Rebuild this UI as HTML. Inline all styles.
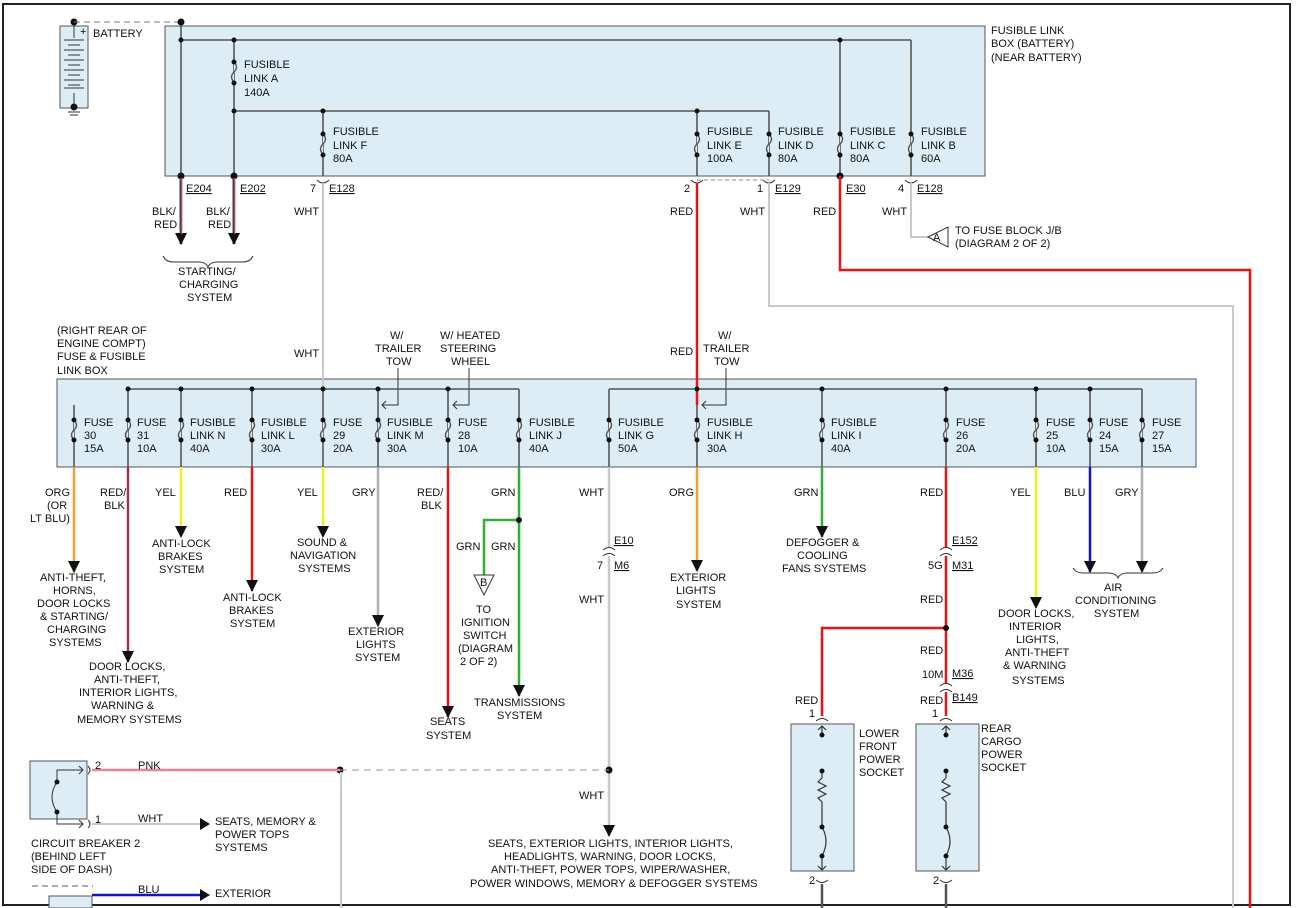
<!DOCTYPE html>
<html><head><meta charset="utf-8"><style>
html,body{margin:0;padding:0;background:#fff;width:1298px;height:908px;overflow:hidden}
svg text{font-family:"Liberation Sans",Arial,sans-serif;font-size:11px;fill:#111}
</style></head><body>
<svg width="1298" height="908" viewBox="0 0 1298 908" xmlns="http://www.w3.org/2000/svg">
<defs>
<marker id="ar" markerWidth="12" markerHeight="12" refX="11" refY="6" orient="auto" markerUnits="userSpaceOnUse"><path d="M0,0 L12,6 L0,12 z" fill="#111"/></marker>
</defs>
<rect x="3" y="4" width="1287" height="901" fill="none" stroke="#222" stroke-width="2"/>
<!-- boxes -->
<rect x="165" y="26" width="820" height="150" fill="#dcedf5" stroke="#555"/>
<rect x="57" y="379" width="1139" height="88" fill="#dcedf5" stroke="#555"/>
<!-- battery -->
<rect x="60" y="26" width="28" height="82" fill="#dcedf5" stroke="#555"/>
<line x1="74" y1="22" x2="74" y2="38" stroke="#333"/>
<g stroke="#333"><line x1="64" y1="40" x2="84" y2="40"/><line x1="68" y1="45" x2="80" y2="45"/><line x1="64" y1="50" x2="84" y2="50"/><line x1="68" y1="55" x2="80" y2="55"/><line x1="64" y1="60" x2="84" y2="60"/><line x1="68" y1="65" x2="80" y2="65"/><line x1="64" y1="70" x2="84" y2="70"/><line x1="68" y1="75" x2="80" y2="75"/><line x1="64" y1="80" x2="84" y2="80"/><line x1="68" y1="85" x2="80" y2="85"/><line x1="64" y1="88" x2="84" y2="88"/><line x1="74" y1="93" x2="74" y2="107"/><line x1="68" y1="112" x2="80" y2="112"/><line x1="70" y1="115" x2="78" y2="115"/></g>
<text x="80" y="35" font-size="9">+</text>
<circle cx="74" cy="22" r="3.5" fill="#111"/><circle cx="74" cy="107" r="3.5" fill="#111"/>
<line x1="74" y1="22" x2="181" y2="22" stroke="#777" stroke-dasharray="6,4"/>
<text x="93" y="37">BATTERY</text>
<!-- top bus -->
<g stroke="#555" stroke-width="1.6" fill="none">
<line x1="181" y1="22" x2="181" y2="176"/>
<line x1="181" y1="40" x2="911" y2="40"/>
<line x1="234" y1="40" x2="234" y2="176"/>
<line x1="234" y1="111" x2="769" y2="111"/>
<line x1="323" y1="111" x2="323" y2="176"/>
<line x1="697" y1="111" x2="697" y2="176"/>
<line x1="769" y1="111" x2="769" y2="176"/>
<line x1="840" y1="40" x2="840" y2="176"/>
<line x1="911" y1="40" x2="911" y2="176"/>
</g>
<g fill="#111"><circle cx="181" cy="22" r="3.5"/><circle cx="181" cy="40" r="2.5"/><circle cx="234" cy="40" r="2.5"/><circle cx="234" cy="111" r="2.5"/><circle cx="323" cy="111" r="2.5"/><circle cx="697" cy="111" r="2.5"/><circle cx="840" cy="40" r="2.5"/><circle cx="181" cy="176" r="3.5"/><circle cx="234" cy="176" r="3.5"/><circle cx="840" cy="176" r="3.5"/></g>
<g fill="#dcedf5" stroke="#555" stroke-width="1.4">
<path d="M234,62 q5,5 0,10 q-5,5 0,10" /><path d="M323,134 q5,5 0,10 q-5,5 0,10"/><path d="M697,134 q5,5 0,10 q-5,5 0,10"/><path d="M769,134 q5,5 0,10 q-5,5 0,10"/><path d="M840,134 q5,5 0,10 q-5,5 0,10"/><path d="M911,134 q5,5 0,10 q-5,5 0,10"/>
</g>
<g fill="#111"><circle cx="234" cy="62" r="2.5"/><circle cx="234" cy="83" r="2.5"/>
<circle cx="323" cy="134" r="2.5"/><circle cx="323" cy="155" r="2.5"/><circle cx="697" cy="134" r="2.5"/><circle cx="697" cy="155" r="2.5"/><circle cx="769" cy="134" r="2.5"/><circle cx="769" cy="155" r="2.5"/><circle cx="840" cy="134" r="2.5"/><circle cx="840" cy="155" r="2.5"/><circle cx="911" cy="134" r="2.5"/><circle cx="911" cy="155" r="2.5"/></g>
<text x="244" y="68">FUSIBLE</text><text x="244" y="82">LINK A</text><text x="244" y="96">140A</text>
<text x="333" y="135">FUSIBLE</text><text x="333" y="149">LINK F</text><text x="333" y="162">80A</text>
<text x="707" y="135">FUSIBLE</text><text x="707" y="149">LINK E</text><text x="707" y="162">100A</text>
<text x="778" y="135">FUSIBLE</text><text x="778" y="149">LINK D</text><text x="778" y="162">80A</text>
<text x="850" y="135">FUSIBLE</text><text x="850" y="149">LINK C</text><text x="850" y="162">80A</text>
<text x="921" y="135">FUSIBLE</text><text x="921" y="149">LINK B</text><text x="921" y="162">60A</text>
<text x="991" y="34">FUSIBLE LINK</text><text x="991" y="47">BOX (BATTERY)</text><text x="991" y="61">(NEAR BATTERY)</text>
<!-- top outputs -->
<line x1="181" y1="178" x2="181" y2="244" stroke="#444" stroke-width="3" marker-end="url(#ar)"/>
<line x1="182" y1="178" x2="182" y2="234" stroke="#e07080" stroke-width="1"/>
<line x1="234" y1="178" x2="234" y2="244" stroke="#444" stroke-width="3" marker-end="url(#ar)"/>
<line x1="235" y1="178" x2="235" y2="234" stroke="#e07080" stroke-width="1"/>
<text x="186" y="192" text-decoration="underline">E204</text><text x="240" y="192" text-decoration="underline">E202</text>
<text x="152" y="215">BLK/</text><text x="154" y="228">RED</text><text x="206" y="215">BLK/</text><text x="208" y="228">RED</text>
<path d="M163,256 q3,6 10,6 l25,0 q8,0 10,5 q2,-5 10,-5 l25,0 q7,0 10,-6" fill="none" stroke="#333"/>
<text x="178" y="275">STARTING/</text><text x="179" y="288">CHARGING</text><text x="187" y="301">SYSTEM</text>
<g fill="none" stroke="#333"><path d="M317,180 q6,6 12,0"/><path d="M691,180 q6,6 12,0"/><path d="M763,180 q6,6 12,0"/><path d="M905,180 q6,6 12,0"/></g>
<text x="310" y="192">7</text><text x="329" y="192" text-decoration="underline">E128</text>
<text x="684" y="192">2</text><text x="757" y="192">1</text><text x="775" y="192" text-decoration="underline">E129</text>
<text x="846" y="192" text-decoration="underline">E30</text><text x="898" y="192">4</text><text x="917" y="192" text-decoration="underline">E128</text>
<line x1="697" y1="180" x2="769" y2="180" stroke="#888" stroke-dasharray="4,3"/>
<line x1="323" y1="183" x2="323" y2="389" stroke="#c8c8c8" stroke-width="2"/>
<text x="294" y="215">WHT</text><text x="294" y="357">WHT</text>
<line x1="697" y1="183" x2="697" y2="405" stroke="#ee1111" stroke-width="2.5"/>
<text x="670" y="215">RED</text><text x="670" y="355">RED</text>
<polyline points="769,183 769,306 1233,306 1233,908" fill="none" stroke="#c8c8c8" stroke-width="2"/>
<text x="740" y="215">WHT</text>
<polyline points="840,176 840,270 1250,270 1250,908" fill="none" stroke="#ee1111" stroke-width="2.5"/>
<text x="813" y="215">RED</text>
<polyline points="911,183 911,237 928,237" fill="none" stroke="#c8c8c8" stroke-width="2"/>
<text x="882" y="215">WHT</text>
<path d="M928,237 L948,227 L948,247 z" fill="#fff" stroke="#333"/><text x="933" y="241" font-size="9">A</text>
<text x="955" y="234">TO FUSE BLOCK J/B</text><text x="955" y="247">(DIAGRAM 2 OF 2)</text>
<!-- lower box labels -->
<text x="57" y="334">(RIGHT REAR OF</text><text x="57" y="347">ENGINE COMPT)</text><text x="57" y="360">FUSE &amp; FUSIBLE</text><text x="57" y="374">LINK BOX</text>
<text x="390" y="339">W/</text><text x="375" y="352">TRAILER</text><text x="386" y="365">TOW</text>
<text x="440" y="339">W/ HEATED</text><text x="440" y="352">STEERING</text><text x="451" y="365">WHEEL</text>
<text x="718" y="339">W/</text><text x="703" y="352">TRAILER</text><text x="714" y="365">TOW</text>
<g fill="none" stroke="#333"><polyline points="398,368 398,405 382,405"/><polyline points="469,368 469,405 453,405"/><polyline points="726,368 726,405 702,405"/>
<path d="M386,401 l-4,4 l4,4"/><path d="M457,401 l-4,4 l4,4"/><path d="M706,401 l-4,4 l4,4"/></g>
<g stroke="#555" stroke-width="1.6" fill="none">
<line x1="128" y1="389" x2="519" y2="389"/><line x1="609" y1="389" x2="1142" y2="389"/>
<line x1="74" y1="405" x2="74" y2="467"/>
<line x1="128" y1="389" x2="128" y2="467"/><line x1="181" y1="389" x2="181" y2="467"/><line x1="252" y1="389" x2="252" y2="467"/><line x1="323" y1="389" x2="323" y2="467"/><line x1="378" y1="389" x2="378" y2="467"/><line x1="448" y1="389" x2="448" y2="467"/><line x1="519" y1="389" x2="519" y2="467"/>
<line x1="609" y1="389" x2="609" y2="467"/><line x1="697" y1="405" x2="697" y2="467"/><line x1="822" y1="389" x2="822" y2="467"/><line x1="946" y1="389" x2="946" y2="467"/><line x1="1036" y1="389" x2="1036" y2="467"/><line x1="1090" y1="389" x2="1090" y2="467"/><line x1="1142" y1="389" x2="1142" y2="467"/>
</g>
<g fill="#dcedf5" stroke="#555" stroke-width="1.4">
<path d="M74,420 q5,5 0,10 q-5,5 0,10"/><path d="M128,420 q5,5 0,10 q-5,5 0,10"/><path d="M181,420 q5,5 0,10 q-5,5 0,10"/><path d="M252,420 q5,5 0,10 q-5,5 0,10"/><path d="M323,420 q5,5 0,10 q-5,5 0,10"/><path d="M378,420 q5,5 0,10 q-5,5 0,10"/><path d="M448,420 q5,5 0,10 q-5,5 0,10"/><path d="M519,420 q5,5 0,10 q-5,5 0,10"/><path d="M609,420 q5,5 0,10 q-5,5 0,10"/><path d="M697,420 q5,5 0,10 q-5,5 0,10"/><path d="M822,420 q5,5 0,10 q-5,5 0,10"/><path d="M946,420 q5,5 0,10 q-5,5 0,10"/><path d="M1036,420 q5,5 0,10 q-5,5 0,10"/><path d="M1090,420 q5,5 0,10 q-5,5 0,10"/><path d="M1142,420 q5,5 0,10 q-5,5 0,10"/>
</g>
<g fill="#111">
<circle cx="74" cy="420" r="2.5"/><circle cx="74" cy="440" r="2.5"/><circle cx="128" cy="420" r="2.5"/><circle cx="128" cy="440" r="2.5"/><circle cx="181" cy="420" r="2.5"/><circle cx="181" cy="440" r="2.5"/><circle cx="252" cy="420" r="2.5"/><circle cx="252" cy="440" r="2.5"/><circle cx="323" cy="420" r="2.5"/><circle cx="323" cy="440" r="2.5"/><circle cx="378" cy="420" r="2.5"/><circle cx="378" cy="440" r="2.5"/><circle cx="448" cy="420" r="2.5"/><circle cx="448" cy="440" r="2.5"/><circle cx="519" cy="420" r="2.5"/><circle cx="519" cy="440" r="2.5"/><circle cx="609" cy="420" r="2.5"/><circle cx="609" cy="440" r="2.5"/><circle cx="697" cy="420" r="2.5"/><circle cx="697" cy="440" r="2.5"/><circle cx="822" cy="420" r="2.5"/><circle cx="822" cy="440" r="2.5"/><circle cx="946" cy="420" r="2.5"/><circle cx="946" cy="440" r="2.5"/><circle cx="1036" cy="420" r="2.5"/><circle cx="1036" cy="440" r="2.5"/><circle cx="1090" cy="420" r="2.5"/><circle cx="1090" cy="440" r="2.5"/><circle cx="1142" cy="420" r="2.5"/><circle cx="1142" cy="440" r="2.5"/>
<circle cx="128" cy="389" r="2.5"/><circle cx="181" cy="389" r="2.5"/><circle cx="252" cy="389" r="2.5"/><circle cx="323" cy="389" r="2.5"/><circle cx="378" cy="389" r="2.5"/><circle cx="448" cy="389" r="2.5"/><circle cx="697" cy="389" r="2.5"/><circle cx="822" cy="389" r="2.5"/><circle cx="946" cy="389" r="2.5"/><circle cx="1036" cy="389" r="2.5"/><circle cx="1090" cy="389" r="2.5"/>
</g>
<text x="84" y="426">FUSE</text><text x="84" y="439">30</text><text x="84" y="452">15A</text>
<text x="137" y="426">FUSE</text><text x="137" y="439">31</text><text x="137" y="452">10A</text>
<text x="190" y="426">FUSIBLE</text><text x="190" y="439">LINK N</text><text x="190" y="452">40A</text>
<text x="261" y="426">FUSIBLE</text><text x="261" y="439">LINK L</text><text x="261" y="452">30A</text>
<text x="333" y="426">FUSE</text><text x="333" y="439">29</text><text x="333" y="452">20A</text>
<text x="387" y="426">FUSIBLE</text><text x="387" y="439">LINK M</text><text x="387" y="452">30A</text>
<text x="458" y="426">FUSE</text><text x="458" y="439">28</text><text x="458" y="452">10A</text>
<text x="529" y="426">FUSIBLE</text><text x="529" y="439">LINK J</text><text x="529" y="452">40A</text>
<text x="618" y="426">FUSIBLE</text><text x="618" y="439">LINK G</text><text x="618" y="452">50A</text>
<text x="707" y="426">FUSIBLE</text><text x="707" y="439">LINK H</text><text x="707" y="452">30A</text>
<text x="831" y="426">FUSIBLE</text><text x="831" y="439">LINK I</text><text x="831" y="452">40A</text>
<text x="956" y="426">FUSE</text><text x="956" y="439">26</text><text x="956" y="452">20A</text>
<text x="1046" y="426">FUSE</text><text x="1046" y="439">25</text><text x="1046" y="452">10A</text>
<text x="1099" y="426">FUSE</text><text x="1099" y="439">24</text><text x="1099" y="452">15A</text>
<text x="1152" y="426">FUSE</text><text x="1152" y="439">27</text><text x="1152" y="452">15A</text>
<!-- lower wires -->
<g stroke-width="2.5" fill="none">
<line x1="74" y1="467" x2="74" y2="572" stroke="#f0a030" marker-end="url(#ar)"/>
<line x1="128" y1="467" x2="128" y2="662" stroke="#a03058" marker-end="url(#ar)"/>
<line x1="181" y1="467" x2="181" y2="537" stroke="#f0f020" marker-end="url(#ar)"/>
<line x1="252" y1="467" x2="252" y2="591" stroke="#ee1111" marker-end="url(#ar)"/>
<line x1="323" y1="467" x2="323" y2="537" stroke="#f0f020" marker-end="url(#ar)"/>
<line x1="378" y1="467" x2="378" y2="626" stroke="#b0b0b0" marker-end="url(#ar)"/>
<line x1="448" y1="467" x2="448" y2="717" stroke="#ee1111" marker-end="url(#ar)"/>
<line x1="519" y1="467" x2="519" y2="696" stroke="#30b030" marker-end="url(#ar)"/>
<polyline points="519,520 484,520 484,575" stroke="#30b030"/>
<polyline points="609,467 609,548" stroke="#c8c8c8"/><polyline points="609,556 609,836" stroke="#c8c8c8" marker-end="url(#ar)"/>
<line x1="697" y1="467" x2="697" y2="571" stroke="#f0a030" marker-end="url(#ar)"/>
<line x1="822" y1="467" x2="822" y2="537" stroke="#30b030" marker-end="url(#ar)"/>
<polyline points="946,467 946,548" stroke="#ee1111"/><polyline points="946,556 946,684" stroke="#ee1111"/><polyline points="946,692 946,716" stroke="#ee1111"/>
<polyline points="946,628 822,628 822,716" stroke="#ee1111"/>
<line x1="1036" y1="467" x2="1036" y2="608" stroke="#f0f020" marker-end="url(#ar)"/>
<line x1="1090" y1="467" x2="1090" y2="572" stroke="#1010e0" marker-end="url(#ar)"/>
<line x1="1142" y1="467" x2="1142" y2="572" stroke="#b0b0b0" marker-end="url(#ar)"/>
</g>
<g fill="#111"><circle cx="519" cy="520" r="3"/><circle cx="946" cy="628" r="3"/><circle cx="340" cy="770" r="3.5"/><circle cx="609" cy="770" r="3.5"/></g>
<path d="M474,575 L494,575 L484,595 z" fill="#fff" stroke="#333"/><text x="480" y="586" font-size="9">B</text>
<g fill="none" stroke="#333"><path d="M603,550 q6,-5 12,0"/><path d="M603,556 q6,-5 12,0"/><path d="M940,550 q6,-5 12,0"/><path d="M940,556 q6,-5 12,0"/><path d="M940,686 q6,-5 12,0"/><path d="M940,692 q6,-5 12,0"/><path d="M816,721 q6,-5 12,0"/><path d="M940,721 q6,-5 12,0"/><path d="M816,880 q6,5 12,0"/><path d="M940,880 q6,5 12,0"/></g>
<text x="45" y="496">ORG</text><text x="47" y="509">(OR</text><text x="30" y="522">LT BLU)</text>
<text x="40" y="581">ANTI-THEFT,</text><text x="53" y="594">HORNS,</text><text x="37" y="607">DOOR LOCKS</text><text x="40" y="620">&amp; STARTING/</text><text x="47" y="633">CHARGING</text><text x="49" y="646">SYSTEMS</text>
<text x="100" y="496">RED/</text><text x="104" y="509">BLK</text>
<text x="89" y="670">DOOR LOCKS,</text><text x="94" y="683">ANTI-THEFT,</text><text x="79" y="696">INTERIOR LIGHTS,</text><text x="91" y="709">WARNING &amp;</text><text x="77" y="723">MEMORY SYSTEMS</text>
<text x="155" y="496">YEL</text><text x="152" y="547">ANTI-LOCK</text><text x="158" y="560">BRAKES</text><text x="159" y="573">SYSTEM</text>
<text x="224" y="496">RED</text><text x="223" y="601">ANTI-LOCK</text><text x="229" y="614">BRAKES</text><text x="230" y="627">SYSTEM</text>
<text x="297" y="496">YEL</text><text x="297" y="546">SOUND &amp;</text><text x="290" y="559">NAVIGATION</text><text x="298" y="572">SYSTEMS</text>
<text x="352" y="496">GRY</text><text x="348" y="635">EXTERIOR</text><text x="356" y="648">LIGHTS</text><text x="355" y="661">SYSTEM</text>
<text x="417" y="496">RED/</text><text x="421" y="509">BLK</text><text x="430" y="725">SEATS</text><text x="426" y="739">SYSTEM</text>
<text x="491" y="496">GRN</text><text x="456" y="550">GRN</text><text x="491" y="550">GRN</text>
<text x="476" y="613">TO</text><text x="461" y="626">IGNITION</text><text x="463" y="639">SWITCH</text><text x="458" y="652">(DIAGRAM</text><text x="460" y="665">2 OF 2)</text>
<text x="474" y="706">TRANSMISSIONS</text><text x="497" y="719">SYSTEM</text>
<text x="579" y="496">WHT</text><text x="614" y="544" text-decoration="underline">E10</text><text x="597" y="569">7</text><text x="614" y="569" text-decoration="underline">M6</text><text x="579" y="603">WHT</text>
<text x="669" y="496">ORG</text><text x="670" y="581">EXTERIOR</text><text x="676" y="594">LIGHTS</text><text x="676" y="608">SYSTEM</text>
<text x="794" y="496">GRN</text><text x="786" y="546">DEFOGGER &amp;</text><text x="797" y="559">COOLING</text><text x="782" y="572">FANS SYSTEMS</text>
<text x="920" y="496">RED</text><text x="952" y="544" text-decoration="underline">E152</text><text x="928" y="569">5G</text><text x="952" y="569" text-decoration="underline">M31</text>
<text x="920" y="603">RED</text><text x="920" y="654">RED</text><text x="922" y="678">10M</text><text x="952" y="677" text-decoration="underline">M36</text>
<text x="920" y="704">RED</text><text x="952" y="701" text-decoration="underline">B149</text><text x="932" y="717">1</text>
<text x="795" y="704">RED</text><text x="809" y="717">1</text>
<text x="1010" y="496">YEL</text><text x="998" y="617">DOOR LOCKS,</text><text x="1009" y="630">INTERIOR</text><text x="1016" y="643">LIGHTS,</text><text x="1005" y="656">ANTI-THEFT</text><text x="1003" y="669">&amp; WARNING</text><text x="1012" y="684">SYSTEMS</text>
<text x="1064" y="496">BLU</text><text x="1115" y="496">GRY</text>
<path d="M1073,568 q3,5 10,5 l25,0 q8,0 10,5 q2,-5 10,-5 l25,0 q7,0 10,-5" fill="none" stroke="#333"/>
<text x="1104" y="591">AIR</text><text x="1075" y="604">CONDITIONING</text><text x="1094" y="617">SYSTEM</text>
<!-- sockets -->
<rect x="791" y="724" width="63" height="147" fill="#dcedf5" stroke="#555"/>
<rect x="916" y="724" width="63" height="147" fill="#dcedf5" stroke="#555"/>
<g stroke="#333" fill="none" stroke-width="1.2">
<line x1="822" y1="726" x2="822" y2="735"/><line x1="822" y1="771" x2="822" y2="778"/><polyline points="822,778 818,782 826,786 818,790 826,794 818,798 822,802 822,827"/><path d="M822,827 q8,14 0,29"/><line x1="822" y1="856" x2="822" y2="870"/><path d="M818,730 l4,-4 l4,4"/><path d="M818,866 l4,4 l4,-4"/>
<line x1="946" y1="726" x2="946" y2="735"/><line x1="946" y1="771" x2="946" y2="778"/><polyline points="946,778 942,782 950,786 942,790 950,794 942,798 946,802 946,827"/><path d="M946,827 q8,14 0,29"/><line x1="946" y1="856" x2="946" y2="870"/><path d="M942,730 l4,-4 l4,4"/><path d="M942,866 l4,4 l4,-4"/>
</g>
<g fill="#111"><circle cx="822" cy="735" r="2.5"/><circle cx="822" cy="771" r="2.5"/><circle cx="822" cy="827" r="2.5"/><circle cx="822" cy="856" r="2.5"/><circle cx="946" cy="735" r="2.5"/><circle cx="946" cy="771" r="2.5"/><circle cx="946" cy="827" r="2.5"/><circle cx="946" cy="856" r="2.5"/></g>
<line x1="822" y1="884" x2="822" y2="908" stroke="#555" stroke-width="2.5"/><line x1="946" y1="884" x2="946" y2="908" stroke="#555" stroke-width="2.5"/>
<text x="809" y="884">2</text><text x="933" y="884">2</text>
<text x="859" y="737">LOWER</text><text x="859" y="750">FRONT</text><text x="859" y="763">POWER</text><text x="859" y="776">SOCKET</text>
<text x="981" y="732">REAR</text><text x="981" y="745">CARGO</text><text x="981" y="758">POWER</text><text x="981" y="771">SOCKET</text>
<!-- circuit breaker -->
<rect x="30" y="761" width="57" height="58" fill="#dcedf5" stroke="#555"/>
<g stroke="#333" fill="none"><polyline points="83,770 57,770 57,782"/><path d="M57,782 q-10,15 0,30"/><polyline points="57,812 57,824 83,824"/><path d="M79,766 l4,4 l-4,4"/><path d="M79,820 l4,4 l-4,4"/><path d="M88,766 q4,4 0,8"/><path d="M88,820 q4,4 0,8"/></g>
<g fill="#111"><circle cx="57" cy="782" r="2.5"/><circle cx="57" cy="812" r="2.5"/></g>
<line x1="92" y1="770" x2="340" y2="770" stroke="#f08098" stroke-width="2.5"/>
<line x1="340" y1="770" x2="609" y2="770" stroke="#999" stroke-dasharray="7,5"/>
<line x1="341" y1="772" x2="341" y2="908" stroke="#c8c8c8" stroke-width="2"/>
<line x1="92" y1="824" x2="200" y2="824" stroke="#c8c8c8" stroke-width="2"/><path d="M200,818 L210,824 L200,830 z" fill="#111"/>
<text x="95" y="769">2</text><text x="138" y="769">PNK</text><text x="95" y="823">1</text><text x="138" y="822">WHT</text>
<text x="215" y="825">SEATS, MEMORY &amp;</text><text x="215" y="838">POWER TOPS</text><text x="215" y="851">SYSTEMS</text>
<text x="31" y="847">CIRCUIT BREAKER 2</text><text x="31" y="860">(BEHIND LEFT</text><text x="31" y="873">SIDE OF DASH)</text>
<text x="579" y="799">WHT</text>
<text x="488" y="847">SEATS, EXTERIOR LIGHTS, INTERIOR LIGHTS,</text><text x="504" y="860">HEADLIGHTS, WARNING, DOOR LOCKS,</text><text x="491" y="873">ANTI-THEFT, POWER TOPS, WIPER/WASHER,</text><text x="470" y="887">POWER WINDOWS, MEMORY &amp; DEFOGGER SYSTEMS</text>
<line x1="32" y1="886" x2="93" y2="886" stroke="#555" stroke-dasharray="6,4"/>
<rect x="49" y="896" width="43" height="12" fill="#dcedf5" stroke="#555"/>
<line x1="92" y1="895" x2="200" y2="895" stroke="#1010e0" stroke-width="2.5"/><path d="M200,889 L210,895 L200,901 z" fill="#111"/>
<text x="138" y="893">BLU</text><text x="215" y="897">EXTERIOR</text>
</svg>
</body></html>
